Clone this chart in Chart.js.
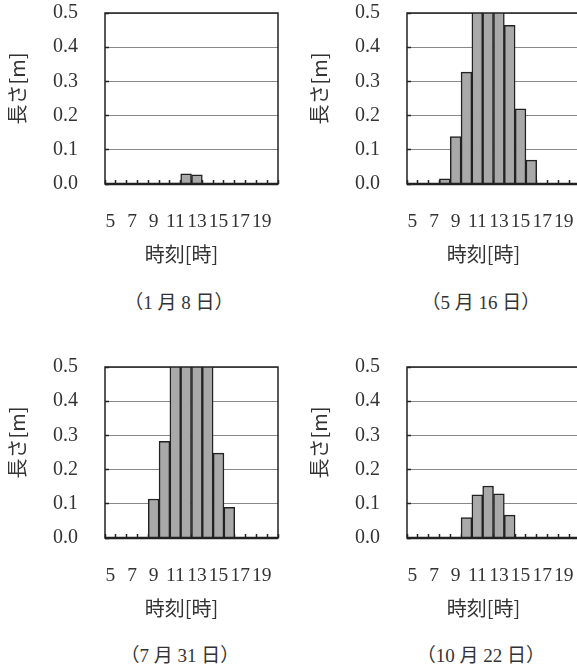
<!DOCTYPE html>
<html>
<head>
<meta charset="utf-8">
<script src="https://cdn.jsdelivr.net/npm/chart.js@4/dist/chart.umd.min.js"></script>
<style>
  body { margin: 0; background: #fff; width: 577px; height: 667px; overflow: hidden; position: relative; }
  canvas { position: absolute; }
  .cap { position: absolute; width: 200px; text-align: center; line-height: 24px; font-size: 19px;
         font-family: "Liberation Serif", "Noto Sans CJK JP", serif; color: #333; }
</style>
</head>
<body>
<canvas id="c1" width="290" height="270" style="left:0;top:0"></canvas>
<canvas id="c2" width="290" height="270" style="left:302px;top:0"></canvas>
<canvas id="c3" width="290" height="270" style="left:0;top:354px"></canvas>
<canvas id="c4" width="290" height="270" style="left:302px;top:354px"></canvas>
<div class="cap" style="left:79px;top:291px">（1 月 8 日）</div>
<div class="cap" style="left:381px;top:291px">（5 月 16 日）</div>
<div class="cap" style="left:80px;top:644px">（7 月 31 日）</div>
<div class="cap" style="left:381px;top:644px">（10 月 22 日）</div>
<script>
// 時刻 (カテゴリ)
const hours = ['5', '6', '7', '8', '9', '10', '11', '12', '13', '14', '15', '16', '17', '18', '19', '20'];
// 表示する目盛りラベル (奇数時のみ)
const tickLabels = ['5', '', '7', '', '9', '', '11', '', '13', '', '15', '', '17', '', '19', ''];
const yTicks = [0, 0.1, 0.2, 0.3, 0.4, 0.5];

// 長さ[m] (0.5を超える値はグラフ枠で切れる)
const jan8  = [0, 0, 0, 0, 0, 0, 0.003, 0.030, 0.027, 0, 0, 0, 0, 0, 0, 0];
const may16 = [0, 0, 0, 0.015, 0.139, 0.327, 0.62, 0.68, 0.60, 0.464, 0.220, 0.070, 0, 0, 0, 0];
const jul31 = [0, 0, 0, 0, 0.114, 0.283, 0.65, 0.70, 0.70, 0.62, 0.248, 0.090, 0, 0, 0, 0];
const oct22 = [0, 0, 0, 0, 0, 0.060, 0.126, 0.152, 0.129, 0.067, 0, 0, 0, 0, 0, 0];

const serif = '"Liberation Serif", serif';
const gothic = '"Noto Sans CJK JP", sans-serif';

Chart.defaults.color = '#333';
Chart.defaults.animation = false;

// グラフ枠
const framePlugin = {
    id: 'frame',
    afterDatasetsDraw(chart) {
        const { ctx, chartArea: a } = chart;
        ctx.save();
        ctx.strokeStyle = '#222';
        ctx.lineWidth = 1.5;
        ctx.strokeRect(a.left, a.top, a.right - a.left, a.bottom - a.top);
        ctx.lineWidth = 2.5;
        ctx.beginPath();
        ctx.moveTo(a.left, a.bottom);
        ctx.lineTo(a.right, a.bottom);
        ctx.stroke();
        ctx.restore();
    }
};

// 軸の自動余白を消して、大きさを固定する
function fixSize(prop, size) {
    return (s) => {
        s[prop] = size;
        s.paddingTop = s.paddingBottom = s.paddingLeft = s.paddingRight = 0;
    };
}

function makeChart(id, values) {
    const ctx = document.getElementById(id).getContext('2d');
    return new Chart(ctx, {
        type: 'bar',
        data: {
            labels: hours,
            datasets: [{
                data: values,
                backgroundColor: '#a9a9a9',
                borderColor: '#222',
                borderWidth: 1.5,
                categoryPercentage: 1.0,
                barPercentage: 1.0,
                clip: 0,
            }],
        },
        options: {
            responsive: false,
            devicePixelRatio: 1,
            layout: { autoPadding: false, padding: { top: 13, right: 12, left: 0, bottom: 0 } },
            plugins: { legend: { display: false }, tooltip: { enabled: false } },
            scales: {
                x: {
                    grid: { display: true, drawOnChartArea: false, drawTicks: true, tickLength: -4, tickColor: '#222', tickWidth: 1.5 },
                    border: { display: false },
                    ticks: {
                        autoSkip: false, maxRotation: 0, padding: 30,
                        font: { family: serif, size: 19.5 },
                        callback: (v, i) => tickLabels[i],
                    },
                    // 末尾の全角空白で元図と同じく少し左寄せ
                    title: { display: true, text: '時刻[時]\u3000', font: { family: gothic, size: 20 }, padding: { top: 0, bottom: 4 } },
                    afterFit: fixSize('height', 86),
                },
                y: {
                    min: 0, max: 0.5,
                    afterBuildTicks: (s) => { s.ticks = yTicks.map(v => ({ value: v })); },
                    grid: { color: '#888', lineWidth: 1, drawTicks: true, tickLength: -4, tickColor: '#222', tickWidth: 1.5 },
                    border: { display: false },
                    ticks: {
                        padding: 31,
                        font: { family: serif, size: 20 },
                        callback: (v) => v.toFixed(1),
                    },
                    // 先頭の全角空白で元図と同じく少し上寄せ
                    title: { display: true, text: '\u3000長さ[m]', font: { family: gothic, size: 20 }, padding: { top: 5, bottom: 0 } },
                    afterFit: fixSize('width', 105),
                },
            },
        },
        plugins: [framePlugin],
    });
}

makeChart('c1', jan8);
makeChart('c2', may16);
makeChart('c3', jul31);
makeChart('c4', oct22);
</script>
</body>
</html>
